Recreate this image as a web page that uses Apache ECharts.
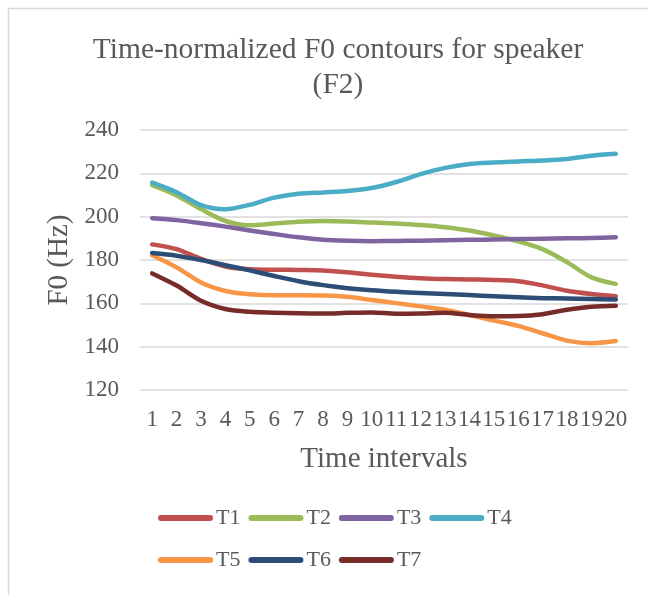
<!DOCTYPE html>
<html><head><meta charset="utf-8">
<script src="https://cdn.jsdelivr.net/npm/echarts@6/dist/echarts.min.js"></script>
<style>html,body{margin:0;padding:0;background:#fff}#c{width:648px;height:595px}</style>
</head><body><div id="c"></div>
<script>
var categories = ['1','2','3','4','5','6','7','8','9','10','11','12','13','14','15','16','17','18','19','20'];
var T1 = [187.2,185,180.5,177,175.7,175.5,175.4,175.2,174.3,173.2,172.3,171.6,171.2,171,170.8,170.2,168.3,165.8,164.3,163.3];
var T2 = [214.5,209.8,203.5,198,196,196.8,197.6,198,197.8,197.3,196.8,196.1,195.1,193.6,191.3,188.6,185,179,172,169];
var T3 = [199.3,198.4,197,195.4,193.6,192,190.5,189.4,188.9,188.7,188.8,188.9,189.1,189.3,189.5,189.7,189.8,190,190.2,190.5];
var T4 = [215.7,211.3,205.3,203.4,205.5,208.8,210.6,211.2,211.8,213.2,216,219.6,222.5,224.3,225,225.5,225.9,226.6,228.1,229];
var T5 = [182.2,176.6,169.6,165.7,164.2,163.7,163.7,163.6,163,161.5,160.1,158.6,157,154.6,152,149.6,146.2,142.8,141.6,142.6];
var T6 = [183.2,182,180,177.6,175.2,172.6,170.2,168.4,167,166,165.3,164.8,164.3,163.8,163.3,162.8,162.4,162.2,162,161.8];
var T7 = [173.8,168.2,161.2,157.4,156.1,155.7,155.4,155.3,155.6,155.8,155.2,155.3,155.6,154.6,154,154.1,155,157,158.4,158.9];
var seriesNames = ['T1','T2','T3','T4','T5','T6','T7'];
var seriesData = [T1,T2,T3,T4,T5,T6,T7];
var colors = ['#C0504D','#9BBB59','#8064A2','#4BACC6','#F79646','#2C4D75','#772C2A'];
var yTicks = {min:120, max:240, interval:20};

var font = '"Liberation Serif","Times New Roman",serif';
var txt = '#595959';
var icon = 'path://M3,0 L52,0 A3,3 0 0 1 52,6 L3,6 A3,3 0 0 1 3,0 Z';
var chart = echarts.init(document.getElementById('c'), null, {renderer:'canvas'});
var series = seriesNames.map(function(n,i){
  return {name:n, type:'line', data:seriesData[i], symbol:'none', smooth:0.3,
    lineStyle:{color:colors[i], width:4.5, cap:'round', join:'round'}, itemStyle:{color:colors[i]}};
});
var legendCommon = {itemWidth:55, itemHeight:6, itemGap:8, icon:icon, left:153,
  textStyle:{fontFamily:font, fontSize:22, color:txt, padding:[0,0,0,-2]}};
chart.setOption({
  animation:false,
  backgroundColor:'#fff',
  color:colors,
  graphic:[{type:'rect', shape:{x:8.5,y:8.5,width:700,height:700}, style:{fill:'none', stroke:'#d9d9d9', lineWidth:1.5}, silent:true}],
  title:{text:'Time-normalized F0 contours for speaker\n(F2)', left:333, textAlign:'center', top:28,
    textStyle:{fontFamily:font, fontSize:29.5, fontWeight:'normal', color:txt, lineHeight:35}},
  grid:{left:140, right:20, top:130, bottom:205, containLabel:false},
  legend:[
    Object.assign({top:502, data:['T1','T2','T3','T4']}, legendCommon),
    Object.assign({top:544, data:['T5','T6','T7']}, legendCommon)
  ],
  xAxis:{type:'category', data:categories, boundaryGap:true,
    axisLine:{show:false}, axisTick:{show:false},
    axisLabel:{fontFamily:font, fontSize:23, color:txt, margin:18, interval:0},
    name:'Time intervals', nameLocation:'middle', nameGap:55,
    nameTextStyle:{fontFamily:font, fontSize:29, color:txt}},
  yAxis:{type:'value', min:yTicks.min, max:yTicks.max, interval:yTicks.interval,
    axisLine:{show:false}, axisTick:{show:false},
    axisLabel:{fontFamily:font, fontSize:23, color:txt, margin:21},
    splitLine:{lineStyle:{color:'#d9d9d9', width:1.5}},
    name:'F0 (Hz)', nameLocation:'middle', nameGap:66, nameRotate:90,
    nameTextStyle:{fontFamily:font, fontSize:29, color:txt}},
  series:series
});
</script></body></html>
